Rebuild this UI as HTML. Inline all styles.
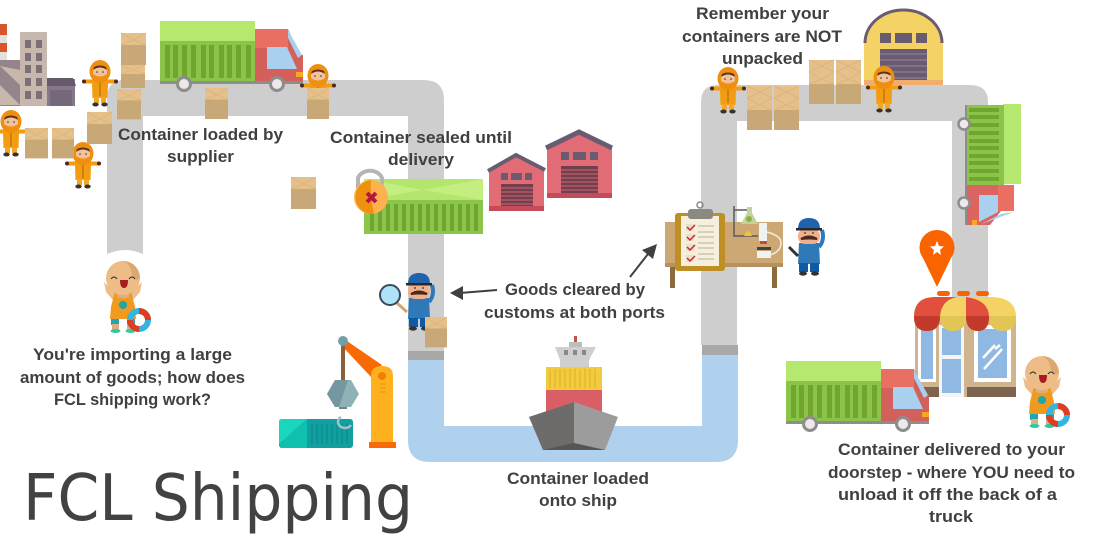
<!DOCTYPE html>
<html><head><meta charset="utf-8"><style>html,body{margin:0;padding:0;background:#fff}svg{display:block}
text{font-family:"Liberation Sans",sans-serif;font-weight:bold;font-size:17px;fill:#3f4042}</style></head><body>
<svg width="1100" height="550" viewBox="0 0 1100 550" xmlns="http://www.w3.org/2000/svg">
<defs>
<g id="worker"><!-- origin head center -->
<path d="M-16 8.500 L16 8.500 L15.500 12.500 L8 12.500 L7.500 27 L-7.500 27 L-8 12.500 L-15.500 12.500Z" fill="#f39c12"/>
<circle cx="-16" cy="10.500" r="2" fill="#4a2a1c"/><circle cx="16" cy="10.500" r="2" fill="#4a2a1c"/>
<path d="M-6 26h5v6h-5zM1 26h5v6h-5z" fill="#f5a623"/>
<ellipse cx="-4.500" cy="33.500" rx="3.200" ry="2" fill="#333"/><ellipse cx="4.500" cy="33.500" rx="3.200" ry="2" fill="#333"/>
<path d="M0 11V25" stroke="#8a5a10" stroke-width=".8"/>
<ellipse cy="0.500" rx="10.500" ry="11.500" fill="#ee8f0e"/><path d="M-7-2 Q0-6 7-2 V3 Q0 8 -7 3Z" fill="#f2c39a"/><path d="M-7-1 Q0-6 7-1 L6-4 Q0-7-6-4Z" fill="#5a3020"/>
<circle cx="-3" cy="1" r=".8" fill="#333"/><circle cx="3" cy="1" r=".8" fill="#333"/>
</g>
<g id="box"><rect width="25" height="12" fill="#e5c08a"/><rect y="12" width="25" height="20" fill="#c9a877"/><path d="M0 0L12.500 7L25 0M0 12L12.500 7L25 12" stroke="#dcb57d" fill="none"/></g>
<g id="box2"><use href="#box" transform="translate(0,12)"/><rect width="25" height="12" fill="#e5c08a"/><path d="M0 0L12.500 6L25 0M0 12L12.500 6L25 12" stroke="#dcb57d" fill="none"/></g>
<g id="truck">
<rect x="160" y="21" width="95" height="20" fill="#b6e86f"/><rect x="160" y="41" width="95" height="40" fill="#8ac449"/>
<g fill="#72a52f"><rect x="165" y="45" width="5" height="33"/><rect x="173" y="45" width="5" height="33"/><rect x="182" y="45" width="5" height="33"/><rect x="191" y="45" width="5" height="33"/><rect x="201" y="45" width="5" height="33"/><rect x="209" y="45" width="5" height="33"/><rect x="219" y="45" width="5" height="33"/><rect x="227" y="45" width="5" height="33"/><rect x="236" y="45" width="5" height="33"/><rect x="246" y="45" width="5" height="33"/></g>
<path d="M255 29H288L300 55H303V82H255Z" fill="#d4605b"/><path d="M255 29H288V48H255Z" fill="#e96f62"/>
<path d="M288 30L302 55L298 58L288 38Z" fill="#a9d0ee"/>
<path d="M267 47H287L297 69H267Z" fill="#a9d0ee"/><rect x="296" y="72" width="7" height="5" fill="#f7a823"/>
<rect x="160" y="81" width="143" height="3" fill="#8d8d8d"/>
<circle cx="184" cy="84" r="6.500" fill="#eee8ea" stroke="#8d8d8d" stroke-width="3"/><circle cx="277" cy="84" r="6.500" fill="#eee8ea" stroke="#8d8d8d" stroke-width="3"/>
</g>
<g id="officer"><!-- origin head center -->
<path d="M-10 8H10L11 29H-11Z" fill="#2f79b8"/><path d="M-10 28H-1V37H-10ZM1 28H10V37H1Z" fill="#0f5aa6"/>
<ellipse cx="-6" cy="38.500" rx="4" ry="2.200" fill="#333"/><ellipse cx="6" cy="38.500" rx="4" ry="2.200" fill="#333"/>
<path d="M10 12Q16 5 13-5" stroke="#2f79b8" stroke-width="4" fill="none"/>
<rect x="-11" y="-6" width="22" height="15" rx="7" fill="#f0b08c"/>
<path d="M-11-6Q-11-17 0-17Q11-17 11-6Z" fill="#1f62ad"/><rect x="-13" y="-7" width="26" height="2.500" fill="#2a2a2a"/>
<path d="M-8 4Q0-1 8 4Q0 3-8 4Z" fill="#4a2a1c" stroke="#4a2a1c" stroke-width="2"/>
<circle cx="-4" cy="-2" r=".9" fill="#333"/><circle cx="4" cy="-2" r=".9" fill="#333"/>
</g>
<g id="baby">
<path d="M-19 4L-15 8L-8 14H8L15 8L19 4L17 14L10 22H-10L-17 14Z" fill="#eebd87"/>
<path d="M-8 13Q0 20 8 13L12 29L13 41H-13L-12 29Z" fill="#f09a1f"/>
<path d="M-6 13Q0 20 6 13L6 19Q0 22-6 19Z" fill="#dcaf7f"/>
<rect x="-12" y="41" width="8" height="6" fill="#21a5b5"/><rect x="4" y="41" width="8" height="6" fill="#21a5b5"/>
<rect x="-11" y="46" width="7" height="6" fill="#dcaf7f"/><rect x="4" y="46" width="7" height="6" fill="#dcaf7f"/>
<ellipse cx="-7.500" cy="53" rx="5" ry="2" fill="#31c9a4"/><ellipse cx="7.500" cy="53" rx="5" ry="2" fill="#31c9a4"/>
<circle cy="0" r="17" fill="#eebd87"/><path d="M0-17A17 17 0 0 1 17 0Q10 6 8-8Q6-15 0-17Z" fill="#dca870"/>
<path d="M-3 2H5Q5 10 1 10Q-3 10-3 2Z" fill="#a81c22"/><path d="M-12 1Q-9-3-6 1M6 1Q9-3 12 1" stroke="#333" fill="none"/>
<circle cx="0" cy="27" r="4" fill="#21a5a5"/>
<circle cx="16" cy="42" r="9" fill="none" stroke="#35b4e0" stroke-width="6"/><path d="M16 33A9 9 0 0 1 25 42M7 42A9 9 0 0 0 16 51" stroke="#df3d22" stroke-width="6" fill="none"/>
</g>
</defs>
<rect width="1100" height="550" fill="#fff"/>

<!-- road -->
<path d="M107 255V98Q107 80 125 80H424Q444 80 444 100V352H408V116H143V255Z" fill="#cecece"/>
<path d="M701 345V102Q701 85 718 85H970Q988 85 988 102V300H952V121H737V345Z" fill="#cecece"/>
<path d="M408 360H444V426H702V355H738V440Q738 462 716 462H430Q408 462 408 440Z" fill="#b0d1ee"/>
<rect x="408" y="351" width="36" height="9" fill="#a8a8a8"/><rect x="702" y="345" width="36" height="10" fill="#a8a8a8"/>
<path d="M100 258Q125 242 150 258V270H100Z" fill="#fff"/>

<!-- factory -->
<rect x="0" y="24" width="7" height="36" fill="#e4e0dc"/><rect x="0" y="24" width="7" height="11" fill="#d7562c"/><rect x="0" y="43" width="7" height="9" fill="#d7562c"/>
<rect x="0" y="60" width="20" height="46" fill="#94858c"/><path d="M0 66L20 85V70ZM0 85L20 105H0Z" fill="#c8b7ad"/>
<rect x="20" y="32" width="27" height="74" fill="#c8b7ad"/>
<g fill="#7b6f78"><rect x="25" y="40" width="6" height="8"/><rect x="36" y="40" width="6" height="8"/><rect x="25" y="53" width="6" height="8"/><rect x="36" y="53" width="6" height="8"/><rect x="25" y="65" width="6" height="8"/><rect x="36" y="65" width="6" height="8"/><rect x="25" y="78" width="6" height="8"/><rect x="36" y="78" width="6" height="8"/><rect x="25" y="91" width="6" height="8"/><rect x="36" y="91" width="6" height="8"/></g>
<rect x="47" y="79" width="28" height="27" fill="#86788a"/><path d="M47 78H73L76 86H47Z" fill="#655a6a"/><rect x="50" y="90" width="22" height="16" fill="#75687a"/>

<use href="#truck"/>
<use href="#worker" transform="translate(100,71)"/>
<use href="#worker" transform="translate(11,121)"/>
<use href="#worker" transform="translate(83,153)"/>
<use href="#worker" transform="translate(318,75)"/>
<use href="#box" transform="translate(121,33)"/><use href="#box" transform="translate(121,65) scale(.96,.72)"/>
<use href="#box" transform="translate(117,89) scale(.96,.95)"/><use href="#box" transform="translate(87,112)"/>
<use href="#box" transform="translate(25,128) scale(.92,.95)"/><use href="#box" transform="translate(52,128) scale(.88,.95)"/>
<use href="#box" transform="translate(205,88) scale(.92,.97)"/><use href="#box" transform="translate(307,88) scale(.88,.97)"/>
<use href="#box" transform="translate(291,177)"/>

<!-- sealed container -->
<rect x="364" y="179" width="119" height="21" fill="#c5ee80"/><path d="M364 179H483L423 190ZM364 200H483L423 190Z" fill="#b4e56d"/>
<rect x="364" y="200" width="119" height="34" fill="#8bc54b"/>
<path d="M372 204V231M380 204V231M388 204V231M396 204V231M404 204V231M412 204V231M420 204V231M428 204V231M436 204V231M444 204V231M452 204V231M460 204V231M468 204V231M476 204V231" stroke="#72a52f" stroke-width="4"/>
<path d="M358 188V178A12.500 10 0 0 1 382 178V188" stroke="#b5b5b5" stroke-width="4" fill="none"/>
<circle cx="371" cy="197" r="17" fill="#fdb24f"/><path d="M371 180A17 17 0 0 0 374 214Q370 197 371 180Z" fill="#f0900f"/>
<path d="M367 193L376 202M376 193L367 202" stroke="#b21b37" stroke-width="4"/>

<!-- warehouses -->
<path d="M489 169L516 157L544 169V211H489Z" fill="#e16c76"/><path d="M488 171L516 155L545 170" stroke="#6a5c70" stroke-width="4" fill="none"/>
<rect x="501" y="173" width="7" height="7" fill="#6a5c70"/><rect x="511" y="173" width="11" height="7" fill="#6a5c70"/><rect x="525" y="173" width="7" height="7" fill="#6a5c70"/>
<rect x="501" y="184" width="32" height="27" fill="#71404f"/><path d="M501 188H533M501 192H533M501 196H533M501 200H533M501 204H533" stroke="#d66471" stroke-width="1"/>
<rect x="489" y="206" width="55" height="5" fill="#c64b5a"/>
<path d="M547 147L579 134L612 147V198H547Z" fill="#e16c76"/><path d="M546 148L579 132L612 148" stroke="#6a5c70" stroke-width="5" fill="none"/>
<rect x="561" y="152" width="8" height="8" fill="#6a5c70"/><rect x="573" y="152" width="13" height="8" fill="#6a5c70"/><rect x="590" y="152" width="8" height="8" fill="#6a5c70"/>
<rect x="561" y="166" width="37" height="32" fill="#71404f"/><path d="M561 170H598M561 174H598M561 178H598M561 182H598M561 186H598M561 190H598" stroke="#d66471" stroke-width="1"/>
<rect x="547" y="193" width="65" height="5" fill="#c64b5a"/>

<!-- officer 1 -->
<path d="M397 303L407 312" stroke="#d5a56e" stroke-width="3"/><circle cx="390" cy="295" r="10" fill="#aee2f7" stroke="#3a4a5a" stroke-width="2"/>
<use href="#officer" transform="translate(419,290)"/>
<use href="#box" transform="translate(425,317) scale(.88,.95)"/>

<!-- crane -->
<path d="M344 339L382 365L372 378L341 345Z" fill="#f76a05"/><rect x="341" y="343" width="4" height="38" fill="#8c5e3c"/><circle cx="343" cy="341" r="5" fill="#73a0a8"/>
<path d="M371 376Q371 366 382 366Q393 366 393 376V442H371Z" fill="#ffb01e"/><circle cx="382" cy="376" r="4" fill="#f07f05"/>
<path d="M380 384H386M380 388H386M380 392H386" stroke="#f59a10" stroke-width="1.500"/>
<rect x="369" y="442" width="27" height="6" fill="#f76a05"/>
<path d="M335 380H351L359 394L351 407H335L327 394Z" fill="#8fb2b7"/><path d="M335 380H348L339 407H335L327 394Z" fill="#74989f"/><rect x="339" y="407" width="8" height="2" fill="#6a8a90"/>
<rect x="279" y="419" width="74" height="29" rx="3" fill="#119f9f"/><path d="M282 419H307L279 444V422Q279 419 282 419Z" fill="#19d6bd"/><path d="M279 444L307 419V448H282Z" fill="#0fc0ae"/>
<path d="M312 424V444M317 424V444M322 424V444M327 424V444M332 424V444M337 424V444M342 424V444M347 424V444" stroke="#0d8f90" stroke-width="1.500"/>
<path d="M341 417A7 6 0 1 0 351 425" stroke="#a9c0c4" stroke-width="2.500" fill="none"/>

<!-- ship -->
<rect x="546" y="367" width="56" height="23" fill="#f2cb3e"/><path d="M550 369V388M555 369V388M560 369V388M565 369V388M570 369V388M575 369V388M580 369V388M585 369V388M590 369V388M595 369V388" stroke="#e2b930" stroke-width="1.500"/>
<rect x="546" y="390" width="56" height="22" fill="#d95e65"/>
<path d="M555 347H596L589 360V367H560V360Z" fill="#cfcfcf"/><rect x="569" y="342" width="13" height="5" fill="#bdbdbd"/><rect x="574" y="336" width="3" height="6" fill="#c25050"/>
<rect x="564" y="350" width="4" height="5" fill="#888"/><rect x="573" y="350" width="4" height="5" fill="#888"/><rect x="582" y="350" width="4" height="5" fill="#888"/>
<path d="M574 402L529 417L543 450H605L618 417Z" fill="#9c9c9c"/><path d="M574 402L529 417L543 450H574Z" fill="#6e6c6b"/><path d="M543 450L574 443L605 450Z" fill="#555"/>

<!-- clipboard table -->
<rect x="665" y="222" width="118" height="45" fill="#cda874"/><rect x="665" y="263" width="118" height="4" fill="#b5925f"/>
<rect x="670" y="267" width="5" height="21" fill="#8c6b3c"/><rect x="772" y="267" width="5" height="21" fill="#8c6b3c"/>
<rect x="675" y="213" width="50" height="58" rx="3" fill="#bd8f24"/><rect x="681" y="216" width="38" height="50" fill="#f5efdc"/>
<rect x="688" y="209" width="25" height="10" rx="3" fill="#8a8a82"/><circle cx="700" cy="205" r="3" fill="none" stroke="#8a8a82" stroke-width="1.500"/>
<rect x="686" y="224" width="8" height="7" fill="#e8dfcc"/><rect x="686" y="234" width="8" height="7" fill="#e8dfcc"/><rect x="686" y="244" width="8" height="7" fill="#e8dfcc"/><rect x="686" y="255" width="8" height="7" fill="#e8dfcc"/>
<path d="M687 227l3 3 5-5M687 237l3 3 5-5M687 247l3 3 5-5M687 258l3 3 5-5" stroke="#cc2a2a" stroke-width="1.500" fill="none"/>
<path d="M698 226H714M698 232H714M698 237H714M698 243H714M698 248H714M698 254H714M698 259H714" stroke="#c4bea8" stroke-width="1.200"/>
<path d="M734 206V236H758M734 210H748" stroke="#5a5a5a" stroke-width="1.500" fill="none"/><path d="M747 207H752V213L758 224H741L747 213Z" fill="#c3d49a"/><circle cx="749" cy="219" r="3" fill="#8bb04a"/>
<path d="M744 236Q748 226 752 236Z" fill="#f1c232"/>
<rect x="759" y="223" width="8" height="18" fill="#f1f3f2"/><rect x="760" y="241" width="7" height="3" fill="#b5533c"/><path d="M767 232Q782 236 781 244Q780 252 770 255" stroke="#f2ece0" stroke-width="1.500" fill="none"/><rect x="757" y="247" width="14" height="3" fill="#444"/><rect x="757" y="251" width="14" height="7" fill="#f1f3f2"/>
<use href="#officer" transform="translate(809,235)"/><path d="M789 247L798 256" stroke="#333" stroke-width="3"/>

<!-- top right -->
<use href="#box2" transform="translate(809,60)"/><use href="#box2" transform="translate(836,60)"/>
<use href="#box2" transform="translate(747,86)"/><use href="#box2" transform="translate(774,86)"/>
<use href="#worker" transform="translate(728,78)"/>
<path d="M864 85V43A39.500 34 0 0 1 943 43V85Z" fill="#f5d264"/><path d="M865 43A38.500 33 0 0 1 942 43" stroke="#695b70" stroke-width="3" fill="none"/>
<rect x="880" y="33" width="11" height="10" fill="#695b70"/><rect x="895" y="33" width="17" height="10" fill="#695b70"/><rect x="916" y="33" width="11" height="10" fill="#695b70"/>
<rect x="880" y="49" width="47" height="36" fill="#695b70"/><path d="M880 54H927M880 60H927M880 66H927M880 72H927M880 78H927" stroke="#88798e" stroke-width="1.500"/>
<rect x="864" y="80" width="79" height="5" fill="#efae6e"/>
<use href="#worker" transform="translate(884,77)"/>

<!-- side truck -->
<rect x="1003" y="104" width="18" height="80" fill="#b6e86f"/><rect x="966" y="105" width="38" height="80" fill="#8ac449"/>
<path d="M969 110H999M969 117H999M969 125H999M969 133H999M969 141H999M969 148H999M969 156H999M969 163H999M969 171H999M969 179H999" stroke="#72a52f" stroke-width="4"/>
<path d="M967 185H1014V211H1001L990 225H967Z" fill="#dc6460"/><rect x="998" y="185" width="16" height="26" fill="#e96f62"/>
<path d="M979 195H998V212L979 222Z" fill="#a9d0ee"/><path d="M981 224L1014 212L1001 214Z" fill="#a9d0ee"/><rect x="972" y="220" width="5" height="5" fill="#f7a823"/>
<rect x="965" y="105" width="2" height="120" fill="#8d8d8d"/>
<circle cx="964" cy="124" r="5.500" fill="#eee8ea" stroke="#8d8d8d" stroke-width="2.500"/><circle cx="964" cy="203" r="5.500" fill="#eee8ea" stroke="#8d8d8d" stroke-width="2.500"/>

<!-- pin -->
<path d="M937 287L923 258A17.500 17.500 0 1 1 951 258Z" fill="#fa6400"/><path d="M937 241l2 5 5 .5-4 3.500 1 5-4-3-4 3 1-5-4-3.500 5-.5z" fill="#fff"/>
<rect x="937" y="291" width="13" height="5" rx="2.500" fill="#fa6400"/><rect x="957" y="291" width="13" height="5" rx="2.500" fill="#fa6400"/><rect x="976" y="291" width="13" height="5" rx="2.500" fill="#fa6400"/>

<!-- shop -->
<rect x="915" y="315" width="101" height="82" fill="#cfb48f"/>
<rect x="918" y="325" width="18" height="57" fill="#fff"/><rect x="921" y="328" width="12" height="51" fill="#8fb8e2"/>
<rect x="939" y="325" width="25" height="72" fill="#f4f6f6"/><rect x="942" y="328" width="19" height="27" fill="#8fb8e2"/><rect x="942" y="359" width="19" height="34" fill="#8fb8e2"/>
<rect x="974" y="325" width="37" height="57" fill="#fff"/><rect x="978" y="329" width="29" height="49" fill="#8fb8e2"/>
<path d="M983 358L995 345M984 369L1002 349M995 349L1000 345" stroke="#fff" stroke-width="2.500"/>
<rect x="967" y="387" width="49" height="10" fill="#7c6451"/><rect x="915" y="387" width="24" height="10" fill="#7c6451"/>
<path d="M914 317Q914 297 935 297H990Q1016 297 1016 317Q1016 331 1003 331Q990 331 989 317Q989 331 976 331Q966 331 966 317Q966 331 953 331Q941 331 940 317Q940 331 927 331Q914 331 914 317Z" fill="#f5d264"/>
<path d="M914 317Q914 297 935 297H957Q941 300 940 317Q940 331 927 331Q914 331 914 317Z" fill="#e34f3f"/>
<path d="M966 297Q989 300 989 317Q989 331 978 331Q966 331 966 317Z" fill="#e34f3f"/>
<path d="M914 316H940Q940 331 927 331Q914 331 914 316ZM966 316H989Q989 331 978 331Q966 331 966 316Z" fill="#c23a2c"/>
<path d="M940 316H966Q966 331 953 331Q940 331 940 316ZM989 316H1016Q1016 331 1003 331Q989 331 989 316Z" fill="#e2c655"/>
<use href="#truck" transform="translate(626,340)"/>

<use href="#baby" transform="translate(123,278)"/>
<use href="#baby" transform="translate(1042,373)"/>

<!-- arrows -->
<path d="M497 290L460 293" stroke="#3f4042" stroke-width="2"/><path d="M450 293L463 286L463 300Z" fill="#3f4042"/>
<path d="M630 277L648 254" stroke="#3f4042" stroke-width="2"/><path d="M657 244L653 259L642 250Z" fill="#3f4042"/>

<!-- labels -->
<text x="118" y="140" textLength="165" lengthAdjust="spacingAndGlyphs">Container loaded by</text>
<text x="167" y="162" textLength="67" lengthAdjust="spacingAndGlyphs">supplier</text>
<text x="330" y="143" textLength="182" lengthAdjust="spacingAndGlyphs">Container sealed until</text>
<text x="388" y="165" textLength="66" lengthAdjust="spacingAndGlyphs">delivery</text>
<text x="505" y="295" textLength="140" lengthAdjust="spacingAndGlyphs">Goods cleared by</text>
<text x="484" y="318" textLength="181" lengthAdjust="spacingAndGlyphs">customs at both ports</text>
<text x="696" y="19" textLength="133" lengthAdjust="spacingAndGlyphs">Remember your</text>
<text x="682" y="42" textLength="160" lengthAdjust="spacingAndGlyphs">containers are NOT</text>
<text x="722" y="64" textLength="81" lengthAdjust="spacingAndGlyphs">unpacked</text>
<text x="33" y="360" textLength="199" lengthAdjust="spacingAndGlyphs">You're importing a large</text>
<text x="20" y="383" textLength="225" lengthAdjust="spacingAndGlyphs">amount of goods; how does</text>
<text x="54" y="405" textLength="157" lengthAdjust="spacingAndGlyphs">FCL shipping work?</text>
<text x="507" y="484" textLength="142" lengthAdjust="spacingAndGlyphs">Container loaded</text>
<text x="539" y="506" textLength="78" lengthAdjust="spacingAndGlyphs">onto ship</text>
<text x="838" y="455" textLength="227" lengthAdjust="spacingAndGlyphs">Container delivered to your</text>
<text x="828" y="478" textLength="247" lengthAdjust="spacingAndGlyphs">doorstep - where YOU need to</text>
<text x="838" y="500" textLength="219" lengthAdjust="spacingAndGlyphs">unload it off the back of a</text>
<text x="929" y="522" textLength="44" lengthAdjust="spacingAndGlyphs">truck</text>
<text x="23" y="520" textLength="390" lengthAdjust="spacingAndGlyphs" style="font-family:'DejaVu Sans',sans-serif;font-weight:normal;font-size:64.500px;fill:#404243">FCL Shipping</text>
</svg>
</body></html>
